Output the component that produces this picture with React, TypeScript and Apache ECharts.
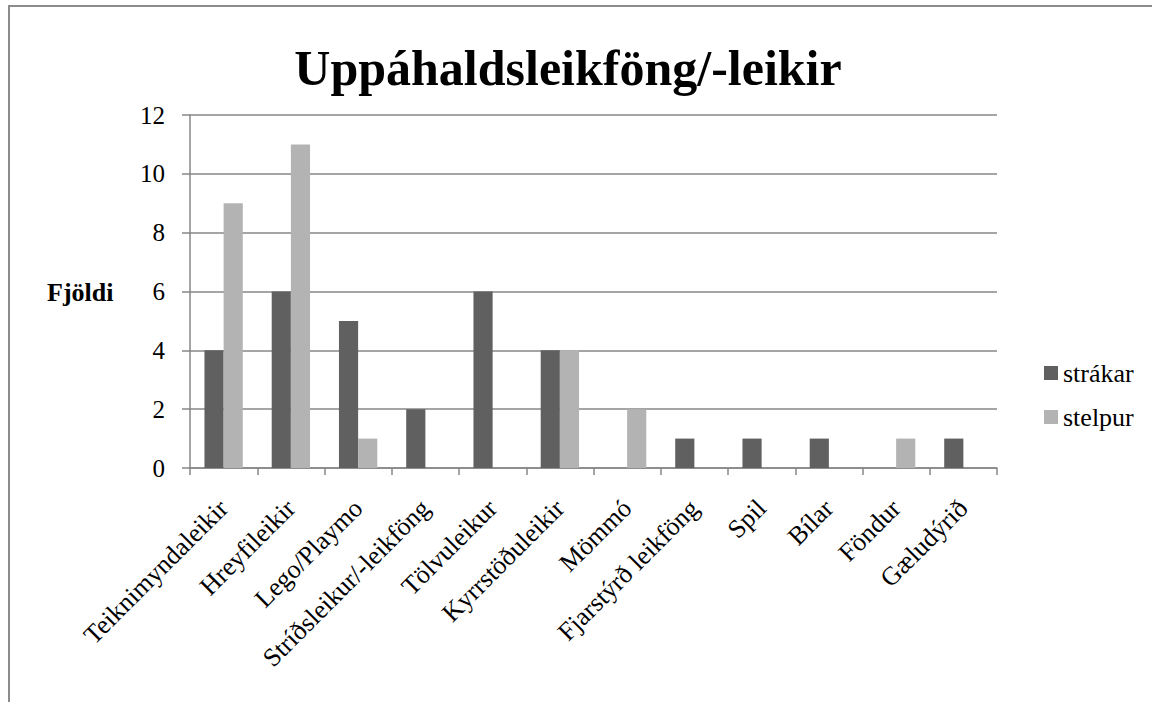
import React, { useEffect, useRef } from "react";
import * as echarts from "echarts";

const categories = [
  "Teiknimyndaleikir",
  "Hreyfileikir",
  "Lego/Playmo",
  "Stríðsleikur/-leikföng",
  "Tölvuleikur",
  "Kyrrstöðuleikir",
  "Mömmó",
  "Fjarstýrð leikföng",
  "Spil",
  "Bílar",
  "Föndur",
  "Gæludýrið",
];
const strakar = [4, 6, 5, 2, 6, 4, 0, 1, 1, 1, 0, 1];
const stelpur = [9, 11, 1, 0, 0, 4, 2, 0, 0, 0, 1, 0];
const title = "Uppáhaldsleikföng/-leikir";
const yName = "Fjöldi";

const FONT = "Liberation Serif";
const GRID = "#878787";

export default function App() {
  const ref = useRef<HTMLDivElement>(null);
  useEffect(() => {
    const chart = echarts.init(ref.current!, null, { renderer: "svg" });
    chart.setOption({
      animation: false,
      backgroundColor: "#ffffff",
      textStyle: { fontFamily: FONT, color: "#000" },
      graphic: [
        {
          type: "rect",
          shape: { x: 9, y: 6, width: 1200, height: 800 },
          style: { fill: "none", stroke: "#8c8c8c", lineWidth: 2 },
          silent: true,
        },
        {
          type: "text",
          x: 568,
          y: 68,
          style: {
            text: title,
            fontFamily: FONT,
            fontSize: 50,
            fontWeight: "bold",
            fill: "#000",
            align: "center",
            verticalAlign: "middle",
          },
        },
        {
          type: "text",
          x: 47,
          y: 292,
          style: {
            text: yName,
            fontFamily: FONT,
            fontSize: 26,
            fontWeight: "bold",
            fill: "#000",
            verticalAlign: "middle",
          },
        },
      ],
      legend: {
        orient: "vertical",
        left: 1039,
        top: 355,
        itemWidth: 14,
        itemHeight: 14,
        itemGap: 18,
        icon: "rect",
        textStyle: { fontFamily: FONT, fontSize: 26, color: "#000" },
        data: ["strákar", "stelpur"],
      },
      grid: { left: 190, right: 155, top: 115, bottom: 234, containLabel: false },
      xAxis: {
        type: "category",
        data: categories,
        axisLine: { lineStyle: { color: GRID, width: 1.5 } },
        axisTick: { show: true, length: 7, lineStyle: { color: GRID, width: 1.5 } },
        axisLabel: {
          rotate: 45,
          interval: 0,
          margin: 36,
          fontSize: 26,
          fontFamily: FONT,
          color: "#000",
        },
      },
      yAxis: {
        type: "value",
        min: 0,
        max: 12,
        interval: 2,
        axisLine: { show: true, lineStyle: { color: GRID, width: 1.5 } },
        axisTick: { show: true, length: 8, lineStyle: { color: GRID, width: 1.5 } },
        splitLine: { lineStyle: { color: GRID, width: 1.5 } },
        axisLabel: { fontSize: 25, fontFamily: FONT, color: "#000", margin: 25 },
      },
      series: [
        {
          name: "strákar",
          type: "bar",
          data: strakar,
          barGap: "0%",
          barCategoryGap: "43%",
          itemStyle: { color: "#606060" },
        },
        {
          name: "stelpur",
          type: "bar",
          data: stelpur,
          barGap: "0%",
          barCategoryGap: "43%",
          itemStyle: { color: "#b3b3b3" },
        },
      ],
    });
    return () => chart.dispose();
  }, []);
  return (
    <div
      ref={ref}
      style={{ position: "absolute", left: 0, top: 0, width: 1152, height: 702 }}
    />
  );
}
